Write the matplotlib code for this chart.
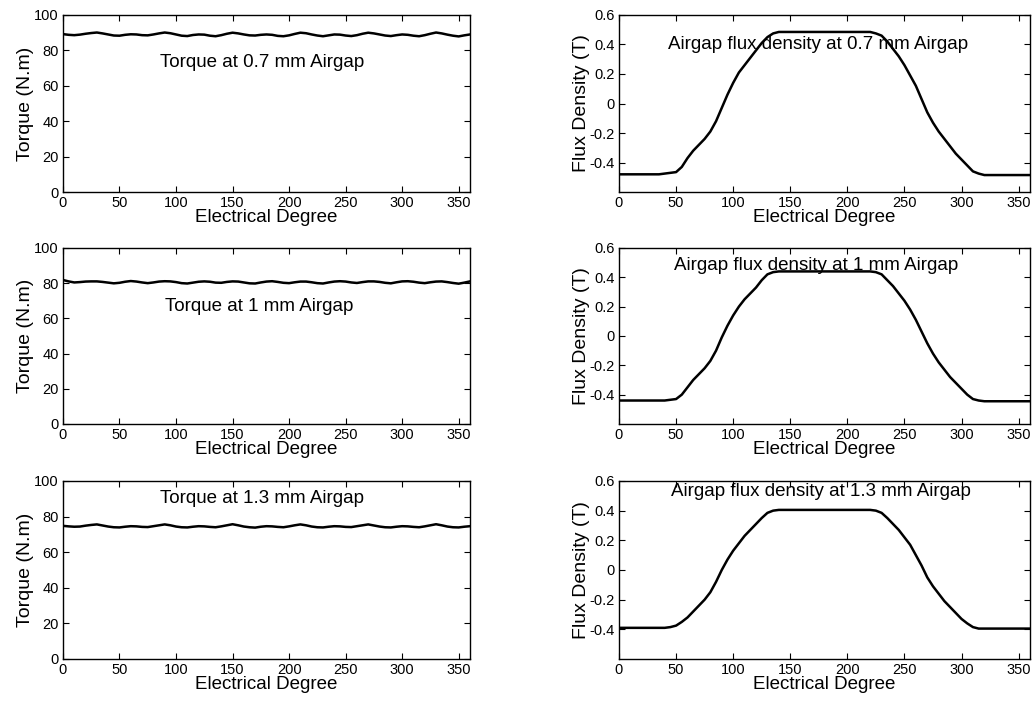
import numpy as np
import matplotlib
matplotlib.use("Agg")
import matplotlib.pyplot as plt

plt.rcParams['font.family'] = ['Liberation Sans', 'DejaVu Sans']

# electrical angle, 5 degree steps
deg = np.arange(0, 361, 5)

# torque (N.m) per airgap
torque_07 = [89.2, 88.8, 88.6, 88.9, 89.4, 89.8, 90.1, 89.6, 89.0, 88.4, 88.3, 88.8,
             89.1, 89.0, 88.6, 88.5, 89.0, 89.6, 90.1, 89.7, 89.0, 88.3, 88.1, 88.7,
             89.0, 88.9, 88.3, 88.0, 88.6, 89.4, 90.0, 89.6, 89.0, 88.5, 88.4, 88.8,
             89.0, 88.8, 88.2, 88.0, 88.5, 89.3, 90.0, 89.7, 89.0, 88.4, 88.0, 88.5,
             89.0, 88.9, 88.4, 88.1, 88.6, 89.4, 90.0, 89.6, 89.0, 88.4, 88.1, 88.6,
             89.0, 88.8, 88.3, 88.0, 88.6, 89.4, 90.1, 89.6, 88.9, 88.3, 87.9, 88.5, 89.0]
torque_10 = [81.8, 81.0, 80.4, 80.6, 80.9, 81.0, 81.0, 80.7, 80.3, 79.9, 80.2, 80.8,
             81.2, 80.9, 80.4, 80.0, 80.4, 80.9, 81.1, 81.0, 80.6, 80.0, 79.8, 80.3,
             80.8, 81.0, 80.8, 80.3, 80.2, 80.7, 81.0, 80.9, 80.4, 79.9, 79.8, 80.4,
             80.9, 81.1, 80.7, 80.2, 80.0, 80.5, 80.9, 80.9, 80.5, 80.0, 79.8, 80.4,
             80.9, 81.1, 80.9, 80.4, 80.1, 80.6, 81.0, 81.0, 80.7, 80.2, 79.9, 80.5,
             81.0, 81.1, 80.8, 80.3, 80.0, 80.5, 80.9, 81.0, 80.6, 80.1, 79.7, 80.3, 81.0]
torque_13 = [74.8, 74.5, 74.3, 74.4, 74.9, 75.3, 75.6, 75.0, 74.4, 74.0, 73.9, 74.3,
             74.6, 74.5, 74.2, 74.1, 74.6, 75.1, 75.6, 75.1, 74.4, 74.0, 73.9, 74.3,
             74.6, 74.5, 74.2, 74.0, 74.5, 75.1, 75.7, 75.1, 74.4, 74.0, 73.8, 74.3,
             74.6, 74.5, 74.2, 74.0, 74.5, 75.1, 75.6, 75.1, 74.4, 74.0, 73.9, 74.3,
             74.6, 74.5, 74.2, 74.1, 74.6, 75.1, 75.6, 75.0, 74.4, 74.0, 73.9, 74.3,
             74.6, 74.5, 74.2, 74.0, 74.5, 75.1, 75.7, 75.1, 74.4, 74.0, 73.9, 74.3, 74.6]

# airgap flux density (T) per airgap
flux_07 = [-0.48, -0.48, -0.48, -0.48, -0.48, -0.48, -0.48, -0.48, -0.475, -0.47, -0.465, -0.43,
           -0.37, -0.32, -0.28, -0.24, -0.19, -0.12, -0.03, 0.06, 0.14, 0.21, 0.26, 0.31,
           0.36, 0.41, 0.45, 0.475, 0.485, 0.485, 0.485, 0.485, 0.485, 0.485, 0.485, 0.485,
           0.485, 0.485, 0.485, 0.485, 0.485, 0.485, 0.485, 0.485, 0.485, 0.475, 0.46, 0.42,
           0.37, 0.32, 0.26, 0.19, 0.12, 0.03, -0.06, -0.13, -0.19, -0.24, -0.29, -0.34,
           -0.38, -0.42, -0.46, -0.475, -0.485, -0.485, -0.485, -0.485, -0.485, -0.485, -0.485, -0.485,
           -0.485]
flux_10 = [-0.44, -0.44, -0.44, -0.44, -0.44, -0.44, -0.44, -0.44, -0.44, -0.435, -0.43, -0.40,
           -0.35, -0.30, -0.26, -0.22, -0.17, -0.10, -0.01, 0.07, 0.14, 0.20, 0.25, 0.29,
           0.33, 0.38, 0.42, 0.435, 0.44, 0.44, 0.44, 0.44, 0.44, 0.44, 0.44, 0.44,
           0.44, 0.44, 0.44, 0.44, 0.44, 0.44, 0.44, 0.44, 0.44, 0.435, 0.42, 0.38,
           0.34, 0.29, 0.24, 0.18, 0.11, 0.03, -0.05, -0.12, -0.18, -0.23, -0.28, -0.32,
           -0.36, -0.40, -0.43, -0.44, -0.445, -0.445, -0.445, -0.445, -0.445, -0.445, -0.445, -0.445,
           -0.445]
flux_13 = [-0.39, -0.39, -0.39, -0.39, -0.39, -0.39, -0.39, -0.39, -0.39, -0.385, -0.375, -0.35,
           -0.32, -0.28, -0.24, -0.20, -0.15, -0.08, 0.00, 0.07, 0.13, 0.18, 0.23, 0.27,
           0.31, 0.35, 0.385, 0.40, 0.405, 0.405, 0.405, 0.405, 0.405, 0.405, 0.405, 0.405,
           0.405, 0.405, 0.405, 0.405, 0.405, 0.405, 0.405, 0.405, 0.405, 0.40, 0.385, 0.35,
           0.31, 0.27, 0.22, 0.17, 0.10, 0.03, -0.05, -0.11, -0.16, -0.21, -0.25, -0.29,
           -0.33, -0.36, -0.385, -0.395, -0.395, -0.395, -0.395, -0.395, -0.395, -0.395, -0.395, -0.395,
           -0.395]

torque_titles = ['Torque at 0.7 mm Airgap', 'Torque at 1 mm Airgap', 'Torque at 1.3 mm Airgap']
flux_titles = ['Airgap flux density at 0.7 mm Airgap', 'Airgap flux density at 1 mm Airgap',
               'Airgap flux density at 1.3 mm Airgap']
torque_text_pos = [(176, 73), (174, 67), (176, 90)]
flux_text_pos = [(174, 0.40), (173, 0.477), (177, 0.532)]

row_bottoms = [0.7284, 0.4003, 0.0679]
row_heights = [0.2504, 0.2490, 0.2518]


def style_axes(ax):
    ax.tick_params(direction='in', length=4, top=True, right=True, labelsize=10.5, pad=3)
    for s in ax.spines.values():
        s.set_linewidth(1.0)
    ax.set_xlim(0, 360)
    ax.set_xticks(np.arange(0, 351, 50))
    ax.set_xlabel('Electrical Degree', fontsize=13.5, labelpad=-1)


fig = plt.figure(figsize=(10.32, 7.07), dpi=100)

for i, (tq, fx) in enumerate(zip([torque_07, torque_10, torque_13], [flux_07, flux_10, flux_13])):
    ax = fig.add_axes([0.061, row_bottoms[i], 0.3944, row_heights[i]])
    ax.plot(deg, tq, color='black', lw=1.8)
    style_axes(ax)
    ax.set_ylim(0, 100)
    ax.set_yticks(np.arange(0, 101, 20))
    ax.set_ylabel('Torque (N.m)', fontsize=14, labelpad=0)
    ax.text(*torque_text_pos[i], torque_titles[i], ha='center', va='center', fontsize=13.5)

    ax = fig.add_axes([0.5998, row_bottoms[i], 0.3983, row_heights[i]])
    ax.plot(deg, fx, color='black', lw=1.8)
    style_axes(ax)
    ax.set_ylim(-0.6, 0.6)
    ax.set_yticks([-0.4, -0.2, 0, 0.2, 0.4, 0.6])
    ax.set_yticklabels(['-0.4', '-0.2', '0', '0.2', '0.4', '0.6'])
    ax.set_ylabel('Flux Density (T)', fontsize=14, labelpad=0)
    ax.text(*flux_text_pos[i], flux_titles[i], ha='center', va='center', fontsize=13.5)

fig.savefig('out.png', dpi=100)
